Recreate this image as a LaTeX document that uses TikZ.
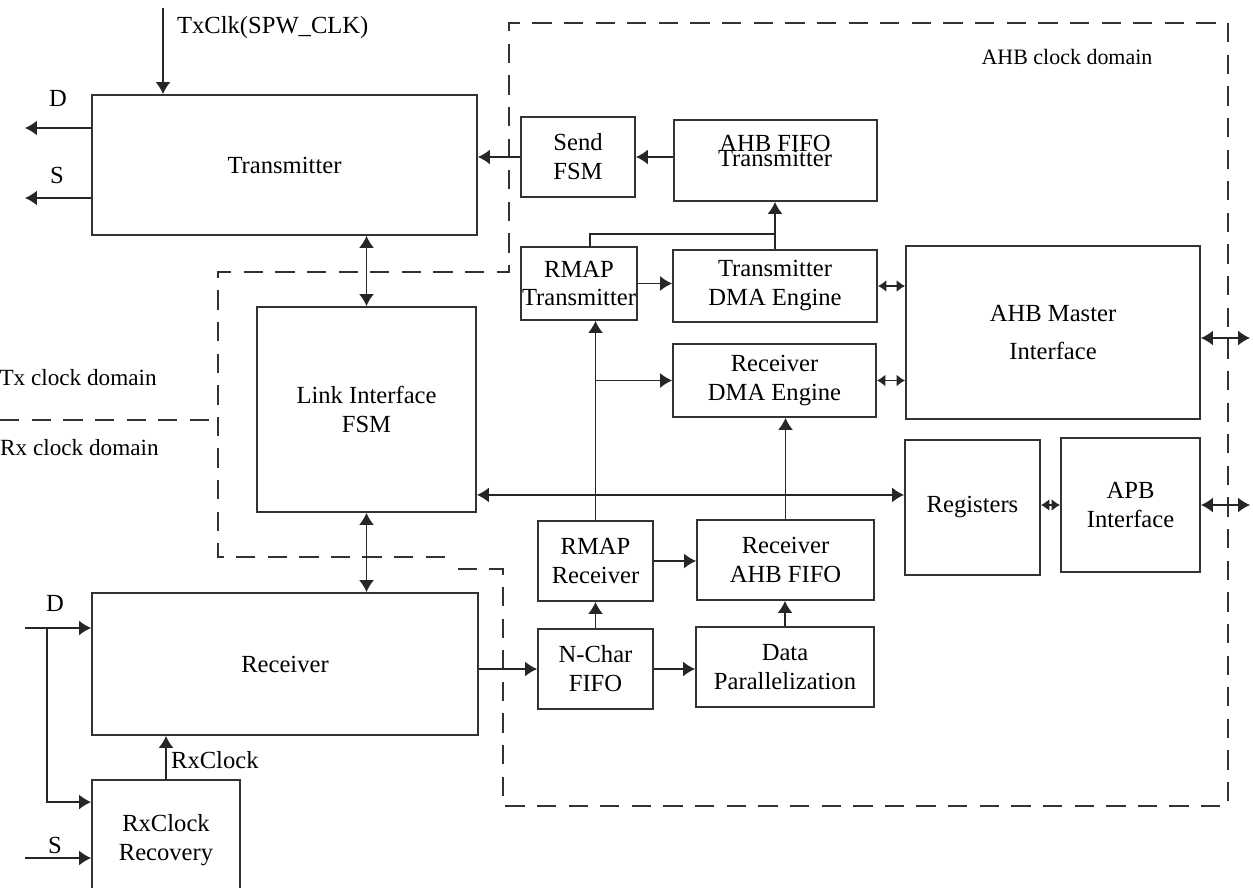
\documentclass[tikz,border=0pt]{standalone}
\usepackage{fontspec}
\setmainfont{Liberation Serif}
\usetikzlibrary{arrows.meta,positioning,calc}

\begin{document}
\begin{tikzpicture}[
    x=0.02cm, y=-0.02cm,
    box/.style={draw=black!80, line width=1.1pt, inner sep=0pt, align=center, font=\fontsize{14}{16.5}\selectfont},
    io/.style={font=\fontsize{14}{16}\selectfont, inner sep=1pt},
    dom/.style={font=\fontsize{12.5}{14}\selectfont, inner sep=0pt},
    arr/.style={-{Latex[length=2.4mm, width=3mm]}, line width=0.8pt, black!85},
    darr/.style={{Latex[length=2.4mm, width=3mm]}-{Latex[length=2.4mm, width=3mm]}, line width=0.8pt, black!85},
    sdarr/.style={{Latex[length=1.7mm, width=2.4mm]}-{Latex[length=1.7mm, width=2.4mm]}, line width=0.8pt, black!85},
    link/.style={line width=0.8pt, black!85},
    border/.style={dash pattern=on 11pt off 7pt, line width=1.1pt, black!80}
]
\useasboundingbox (0,0) rectangle (1253,888);

% clock domains
\draw[border] (445,557) -- (218,557) -- (218,272) -- (509,272) -- (509,23) -- (1228,23)
    -- (1228,806) -- (503,806) -- (503,569) -- (452,569);
\draw[border] (0,420) -- (218,420);
\node[dom] (ahbdom) at (1067,57) {AHB clock domain};
\node[dom, font=\fontsize{13.2}{15}\selectfont, anchor=east] (txdom) at (157,378) {Tx clock domain};
\node[dom, font=\fontsize{13.2}{15}\selectfont, anchor=east] (rxdom) at (159,448) {Rx clock domain};

% SpaceWire link blocks
\node[box, minimum width=7.7cm, minimum height=2.8cm] (tx) at (284.5,165) {Transmitter};
\node[box, minimum width=4.38cm, minimum height=4.1cm] (lif) at (366.5,409.5) {Link Interface\\FSM};
\node[box, minimum width=7.72cm, minimum height=2.84cm] (rx) at (285,664) {Receiver};
\node[box, minimum width=2.96cm, minimum height=2.4cm] (rcr) at (166,840) {RxClock\\Recovery};

% transmit path
\node[box, minimum width=2.28cm, minimum height=1.6cm] (send) at (578,157) {Send\\FSM};
\node[box, minimum width=4.06cm, minimum height=1.62cm] (fifotx) at (775.5,160.5) {};
\node[io, align=center] (fifolbl) at (775,151) {AHB FIFO\\[-7.5pt]Transmitter};
\node[box, minimum width=2.32cm, minimum height=1.46cm] (rmaptx) at (579,283.5) {RMAP\\Transmitter};
\node[box, minimum width=4.08cm, minimum height=1.44cm] (txdma) at (775,286) {Transmitter\\DMA Engine};

% receive path
\node[box, minimum width=4.06cm, minimum height=1.46cm] (rxdma) at (774.5,380.5) {Receiver\\DMA Engine};
\node[box, minimum width=2.3cm, minimum height=1.6cm] (rmaprx) at (595.5,561) {RMAP\\Receiver};
\node[box, minimum width=3.54cm, minimum height=1.6cm] (rxfifo) at (785.5,560) {Receiver\\AHB FIFO};
\node[box, minimum width=2.3cm, minimum height=1.6cm] (nchar) at (595.5,669) {N-Char\\FIFO};
\node[box, minimum width=3.56cm, minimum height=1.6cm] (datap) at (785,667) {Data\\Parallelization};

% bus side
\node[box, minimum width=5.88cm, minimum height=3.46cm] (ahbm) at (1053,332.5) {AHB Master\\[5pt]Interface};
\node[box, minimum width=2.7cm, minimum height=2.7cm] (regs) at (972.5,507.5) {Registers};
\node[box, minimum width=2.78cm, minimum height=2.68cm] (apb) at (1130.5,505) {APB\\Interface};

% outside signals
\coordinate (clkin) at (163,8);
\coordinate (dout) at (25,128);
\coordinate (sout) at (25,198);
\coordinate (din) at (25,628);
\coordinate (dsplit) at (47,628);
\coordinate (sin) at (25,858);
\coordinate (ahbbus) at (1250,338);
\coordinate (apbbus) at (1250,505);
\node[io, anchor=west] (clklbl) at (175,28) {TxClk(SPW\_CLK)};
\node[io] (dolbl) at (58,98) {D};
\node[io] (solbl) at (57,175) {S};
\node[io] (dilbl) at (55,603) {D};
\node[io] (silbl) at (55,845) {S};
\node[io, anchor=west] (rxclbl) at (169,760) {RxClock};

\draw[arr] (clkin) -- (clkin |- tx.north);
\draw[arr] (tx.west |- dout) -- (dout);
\draw[arr] (tx.west |- sout) -- (sout);
\draw[darr] (lif.north) -- (lif.north |- tx.south);
\draw[darr] (lif.south) -- (lif.south |- rx.north);
\draw[arr] (din) -- (din -| rx.west);
\draw[arr] (dsplit) |- ($(rcr.north west)+(0,23)$);
\draw[arr] (sin) -- (sin -| rcr.west);
\draw[arr] (rcr.north) -- (rcr.north |- rx.south);

% transmit connections
\draw[arr] (send.west) -- (send.west -| tx.east);
\draw[arr] (fifotx.west |- send.east) -- (send.east);
\draw[arr] (rmaptx.east) -- (rmaptx.east -| txdma.west);
\draw[arr] (txdma.north) -- (txdma.north |- fifotx.south);
\draw[link] ($(rmaptx.north)+(11,0)$) |- ($(txdma.north)+(0,-15)$);

% receive connections
\draw[arr] (rx.east |- nchar.west) -- (nchar.west);
\draw[arr] (nchar.north) -- (rmaprx.south);
\draw[arr] (nchar.east) -- (nchar.east -| datap.west);
\draw[arr] (datap.north) -- (datap.north |- rxfifo.south);
\draw[arr] (rmaprx.east) -- (rmaprx.east -| rxfifo.west);
\draw[arr] (rxfifo.north) -- (rxfifo.north |- rxdma.south);
\draw[arr] (rmaprx.north) -- (rmaprx.north |- rmaptx.south);
\draw[arr] (rmaprx.north |- rxdma.west) -- (rxdma.west);

% bus connections
\draw[darr] ($(lif.south east)+(0,-18)$) coordinate (lr) -- (lr -| regs.west);
\draw[sdarr] (txdma.east) -- (txdma.east -| ahbm.west);
\draw[sdarr] (rxdma.east) -- (rxdma.east -| ahbm.west);
\draw[sdarr] (regs.east |- apb.west) -- (apb.west);
\draw[darr] (ahbm.east |- ahbbus) -- (ahbbus);
\draw[darr] (apb.east) -- (apbbus);
\end{tikzpicture}
\end{document}
